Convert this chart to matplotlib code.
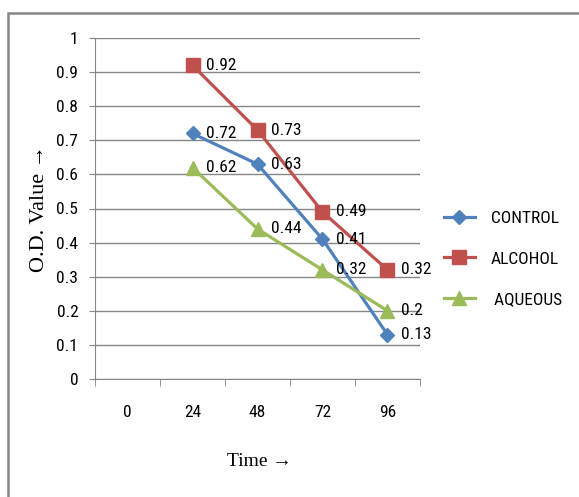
import matplotlib
matplotlib.use("Agg")
import matplotlib.pyplot as plt
from matplotlib import font_manager as fm
from matplotlib.lines import Line2D
from matplotlib.patches import Rectangle

categories = ["0", "24", "48", "72", "96"]
control = [None, 0.72, 0.63, 0.41, 0.13]
alcohol = [None, 0.92, 0.73, 0.49, 0.32]
aqueous = [None, 0.62, 0.44, 0.32, 0.2]
control_labels = ["0.72", "0.63", "0.41", "0.13"]
alcohol_labels = ["0.92", "0.73", "0.49", "0.32"]
aqueous_labels = ["0.62", "0.44", "0.32", "0.2"]
series_names = ["CONTROL", "ALCOHOL", " AQUEOUS"]
y_ticks = [0, 0.1, 0.2, 0.3, 0.4, 0.5, 0.6, 0.7, 0.8, 0.9, 1]
y_tick_labels = ["0", "0.1", "0.2", "0.3", "0.4", "0.5", "0.6", "0.7", "0.8", "0.9", "1"]

available = {f.name for f in fm.fontManager.ttflist}
narrow_first = next((n for n in ["Roboto Condensed", "Archivo Narrow", "Barlow Semi Condensed",
                                 "Liberation Sans Narrow", "Carlito"] if n in available),
                    "Liberation Sans")
narrow = [narrow_first, "DejaVu Sans"]
serif = ["Liberation Serif", "DejaVu Serif"]

W, H = 579, 497
fig = plt.figure(figsize=(W / 100, H / 100), dpi=100)
ax = fig.add_axes([95 / W, 1 - 379 / H, (420 - 95) / W, (379 - 38) / H])

# outer frame (top and left visible)
fig.patches.append(Rectangle((8 / W, -0.1), 1.2, 1 - 13 / H + 0.1, transform=fig.transFigure,
                             fill=False, edgecolor="#878787", linewidth=1.8, zorder=0))

colors = ["#4F81BD", "#C0504D", "#9BBB59"]
markers = ["D", "s", "^"]
msizes = [7.5, 9.5, 10]
all_vals = [control, alcohol, aqueous]
all_labels = [control_labels, alcohol_labels, aqueous_labels]
LFS = 12.5

for vals, labs, c, m, ms in zip(all_vals, all_labels, colors, markers, msizes):
    xs = [i for i, v in enumerate(vals) if v is not None]
    ys = [v for v in vals if v is not None]
    ax.plot(xs, ys, color=c, lw=2.3, marker=m, markersize=ms, zorder=3)
    for x, y, t in zip(xs, ys, labs):
        ax.annotate(t, (x, y), xytext=(10, 0), textcoords="offset points",
                    ha="left", va="center", fontsize=LFS, family=narrow, color="#000000", zorder=4)

ax.set_xlim(-0.5, 4.5)
ax.set_ylim(0, 1)
ax.set_yticks(y_ticks)
ax.set_yticklabels(y_tick_labels, family=narrow, fontsize=LFS)
ax.yaxis.grid(True, color="#868686", lw=1)
ax.set_axisbelow(True)
ax.set_xticks(range(len(categories)))
ax.set_xticklabels(categories, family=narrow, fontsize=LFS)
ax.set_xticks([i - 0.5 for i in range(len(categories) + 1)], minor=True)
ax.tick_params(axis="x", which="major", length=0, pad=19)
ax.tick_params(axis="x", which="minor", length=5, color="#868686")
ax.tick_params(axis="y", length=4, color="#868686", pad=8)
for s in ["top", "right"]:
    ax.spines[s].set_visible(False)
for s in ["left", "bottom"]:
    ax.spines[s].set_color("#868686")

fig.text(39 / W, 1 - 209 / H, "O.D. Value \u2192", rotation=90, ha="center", va="center",
         family=serif, fontsize=16)
fig.text(259 / W, 1 - 461 / H, "Time \u2192", ha="center", va="center", family=serif, fontsize=14)

handles = [Line2D([0], [0], color=c, lw=2.3, marker=m, markersize=ms)
           for c, m, ms in zip(colors, markers, msizes)]
fig.legend(handles, series_names, loc="center left", bbox_to_anchor=(428 / W, 1 - 259 / H),
           frameon=False, prop={"family": narrow, "size": LFS}, handlelength=1.8,
           labelspacing=1.48, handletextpad=0.9)

fig.savefig("out.png", dpi=100)
